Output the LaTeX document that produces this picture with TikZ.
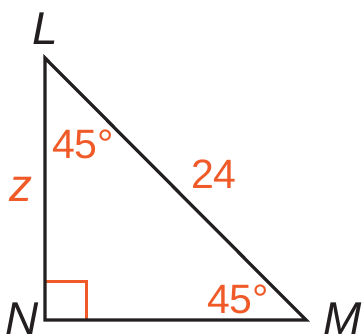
\documentclass[tikz,border=0pt]{standalone}
\usepackage{fontspec}
\setmainfont{Liberation Sans}
\usepackage{tikz}
\definecolor{accent}{RGB}{240,90,40}
\definecolor{ink}{RGB}{35,31,32}

\tikzset{
  vertexlabel/.style={inner sep=0pt, anchor=base, text=ink, font=\fontsize{46}{46}\selectfont\itshape},
  measure/.style={inner sep=0pt, anchor=base, text=accent, font=\fontsize{41}{41}\selectfont},
}

\begin{document}
\begin{tikzpicture}[x=1pt, y=-1pt]
  \useasboundingbox (0,0) rectangle (363,334);

  % vertices of the triangle
  \coordinate (l) at (45,58);
  \coordinate (n) at (45,320);
  \coordinate (m) at (306,320);
  \coordinate (sq) at (86,281);

  % right angle mark, then the sides
  \draw[accent, line width=3pt] (n |- sq) -- (sq) -- (sq |- n);
  \draw[ink, line width=3.2pt, line join=miter] (l) -- (n) -- (m) -- cycle;

  \node[vertexlabel] (labl) at (45,45) {L};
  \node[vertexlabel] (labn) at (22,334) {N};
  \node[vertexlabel] (labm) at (343,334) {M};

  \node[measure, font=\fontsize{46}{46}\selectfont\itshape] (side) at (21,201) {z};
  \node[measure] (hyp) at (214,188) {24};
  \node[measure] (angl) at (83,158) {45°};
  \node[measure] (angm) at (238,313) {45°};
\end{tikzpicture}
\end{document}
